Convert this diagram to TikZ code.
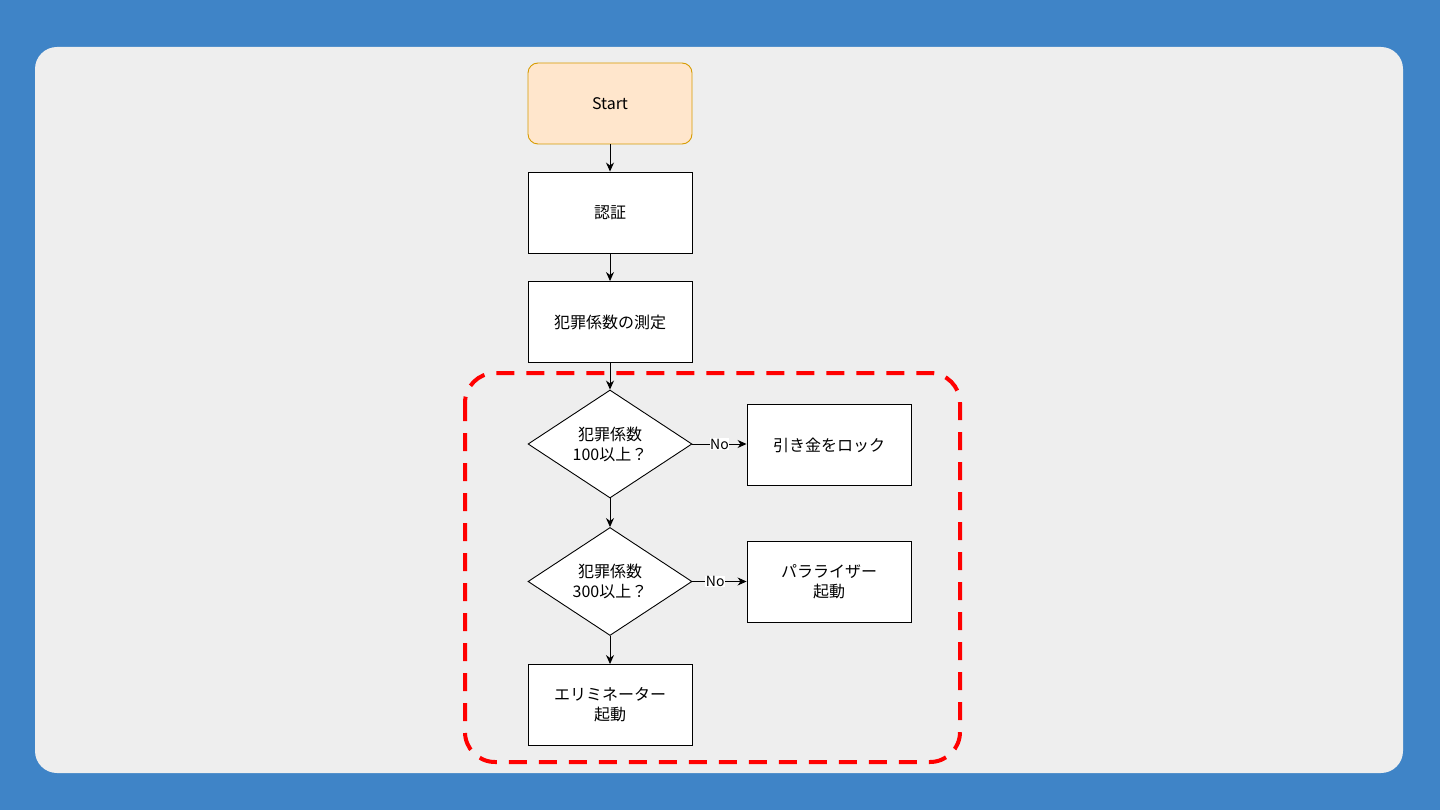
\documentclass[tikz,border=0pt]{standalone}
\usepackage{fontspec}
\setmainfont{Noto Sans CJK JP}
\usetikzlibrary{positioning, arrows.meta, shapes.geometric}
\definecolor{bgblue}{HTML}{3F84C7}
\definecolor{panelgray}{HTML}{EEEEEE}
\definecolor{startfill}{HTML}{FFE6CC}
\definecolor{startline}{HTML}{D79B00}

\begin{document}
\begin{tikzpicture}[x=1pt, y=-1pt, >={Stealth[length=9pt, width=8pt]},
  every node/.style={font=\fontsize{16}{20}\selectfont},
  procbox/.style={draw=black, fill=white, line width=0.9pt, minimum width=164pt, minimum height=81pt, align=center, inner sep=0pt},
  startbox/.style={procbox, rounded corners=10pt, draw=startline, fill=startfill},
  decision/.style={diamond, draw=black, fill=white, line width=0.9pt, minimum width=164pt, minimum height=108pt, aspect=1.52, align=center, inner sep=0pt},
  nolabel/.style={fill=white, inner sep=0.5pt, font=\fontsize{14}{16}\selectfont},
  flow/.style={->, line width=0.9pt}]
\fill[bgblue] (0,0) rectangle (1440,810);
\fill[panelgray, rounded corners=22pt] (35,47) rectangle (1403,773);
\draw[red, line width=4pt, dash pattern=on 18pt off 12pt, rounded corners=30pt] (465,373) rectangle (960,762);
% main column
\node[startbox] (start) at (610,103.5) {Start};
\node[procbox] (auth) at (610,212.5) {認証};
\node[procbox] (measure) at (610,322) {犯罪係数の測定};
\node[decision] (check100) at (610,444) {犯罪係数\\100以上？};
\node[decision] (check300) at (610,581.5) {犯罪係数\\300以上？};
\node[procbox] (elim) at (610,705) {エリミネーター\\起動};
% side boxes
\node[procbox] (lock) at (829,445) {引き金をロック};
\node[procbox] (para) at (829,582) {パラライザー\\起動};
\draw[flow] (start) -- (auth);
\draw[flow] (auth) -- (measure);
\draw[flow] (measure) -- (check100);
\draw[flow] (check100) -- (check300);
\draw[flow] (check300) -- (elim);
\draw[flow] (check100.east) -- node[nolabel]{No} (check100.east -| lock.west);
\draw[flow] (check300.east) -- node[nolabel, pos=0.42]{No} (check300.east -| para.west);
\end{tikzpicture}
\end{document}
